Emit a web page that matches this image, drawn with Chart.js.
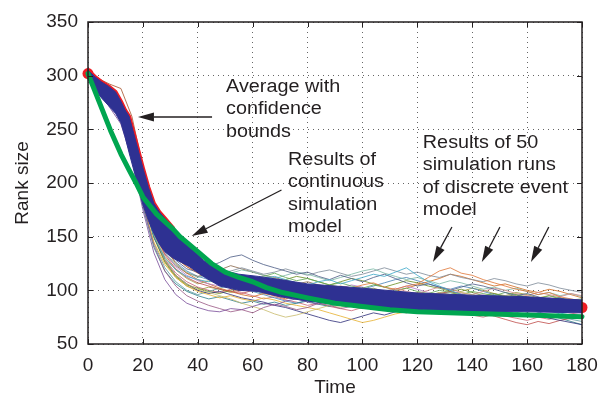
<!DOCTYPE html>
<html>
<head>
<meta charset="utf-8">
<script src="https://cdn.jsdelivr.net/npm/chart.js@4.4.1/dist/chart.umd.min.js"></script>
<style>
  html, body { margin: 0; padding: 0; background: #fff; }
  #wrap { width: 608px; height: 399px; }
</style>
</head>
<body>
<div id="wrap"><canvas id="chart" width="608" height="399"></canvas></div>
<script>
// sampling times of the 50 discrete event runs (only a readable subset is kept)
const runTimes = [0, 4, 8, 12, 16, 20, 24, 28, 32, 36, 40, 44, 48, 52, 56, 60, 64, 68, 72, 76, 80, 84, 88, 92, 96, 100, 104, 108, 112, 116, 120, 124, 128, 132, 136, 140, 144, 148, 152, 156, 160, 164, 168, 172, 176, 180];

const discreteRuns = [
    [302, 293, 283, 270, 238, 192, 160, 141, 130, 122, 117, 113, 110, 108, 110, 107, 104, 103, 101, 104, 102, 99, 101, 104, 102, 105, 107, 103, 101, 104, 106, 112, 118, 121, 116, 114, 110, 107, 104, 101, 99, 96, 98, 94, 92, 90],
    [302, 288, 272, 262, 230, 185, 150, 130, 119, 113, 110, 108, 111, 114, 112, 109, 111, 113, 110, 107, 105, 108, 110, 106, 109, 112, 115, 113, 117, 121, 114, 108, 104, 100, 96, 92, 88, 84, 80, 83, 86, 84, 81, 78, 80, 82],
    [302, 286, 270, 255, 222, 175, 135, 110, 96, 88, 84, 81, 80, 83, 82, 85, 88, 86, 90, 92, 89, 87, 91, 94, 92, 89, 86, 88, 90, 87, 85, 88, 91, 89, 86, 84, 87, 90, 88, 85, 82, 85, 83, 80, 82, 79],
    [302, 290, 278, 262, 225, 180, 142, 118, 104, 95, 90, 86, 83, 80, 82, 79, 84, 87, 85, 82, 84, 88, 86, 83, 85, 88, 91, 89, 86, 84, 87, 90, 88, 85, 83, 86, 89, 87, 84, 86, 88, 85, 82, 84, 87, 85],
    [302, 289, 276, 264, 232, 190, 152, 128, 114, 106, 101, 98, 95, 92, 88, 85, 82, 78, 75, 77, 80, 83, 86, 84, 88, 92, 90, 87, 89, 93, 96, 94, 91, 95, 98, 96, 93, 90, 92, 95, 91, 88, 90, 87, 89, 86],
    [302, 291, 282, 271, 242, 198, 162, 142, 128, 120, 117, 122, 126, 131, 133, 128, 124, 121, 118, 115, 117, 113, 110, 114, 111, 108, 112, 115, 111, 107, 104, 106, 103, 100, 103, 106, 104, 101, 98, 95, 97, 94, 91, 93, 89, 87],
    [302, 294, 286, 276, 245, 200, 165, 145, 132, 124, 118, 113, 109, 106, 103, 101, 98, 96, 99, 97, 94, 97, 100, 98, 95, 93, 96, 99, 102, 99, 97, 100, 103, 101, 98, 96, 99, 102, 100, 97, 95, 98, 96, 94, 97, 95],
    [302, 292, 280, 268, 240, 205, 170, 150, 138, 128, 122, 117, 113, 115, 112, 110, 113, 116, 112, 109, 111, 108, 105, 107, 104, 102, 105, 103, 100, 102, 99, 97, 100, 98, 96, 99, 97, 95, 98, 96, 94, 92, 95, 93, 91, 92],
    [302, 297, 292, 288, 262, 215, 172, 146, 131, 122, 116, 111, 107, 104, 106, 103, 100, 102, 99, 96, 98, 95, 93, 96, 94, 91, 93, 96, 98, 95, 92, 94, 97, 99, 96, 93, 91, 94, 92, 89, 91, 88, 86, 89, 87, 85],
    [302, 287, 274, 261, 228, 182, 145, 124, 112, 104, 99, 96, 93, 95, 92, 90, 93, 91, 88, 86, 84, 82, 79, 76, 73, 70, 72, 75, 78, 80, 83, 81, 84, 87, 85, 82, 80, 83, 86, 84, 82, 85, 83, 80, 82, 84],
    [302, 288, 275, 263, 230, 186, 150, 128, 114, 106, 100, 97, 99, 96, 93, 91, 89, 86, 84, 81, 78, 75, 72, 70, 73, 76, 79, 77, 80, 83, 81, 84, 82, 79, 82, 85, 83, 81, 78, 76, 79, 77, 74, 72, 70, 68],
    [302, 290, 279, 268, 236, 195, 158, 136, 124, 117, 112, 115, 118, 116, 119, 117, 114, 111, 114, 117, 115, 112, 109, 112, 115, 118, 120, 116, 113, 110, 112, 109, 106, 109, 107, 104, 101, 103, 100, 102, 99, 96, 98, 95, 97, 94],
    [302, 289, 277, 266, 234, 191, 155, 133, 120, 112, 107, 104, 101, 99, 97, 100, 98, 95, 97, 94, 92, 95, 93, 90, 92, 94, 91, 89, 92, 90, 88, 86, 89, 87, 84, 82, 79, 76, 73, 70, 68, 71, 69, 72, 74, 76],
    [302, 292, 284, 274, 246, 204, 168, 148, 136, 127, 121, 119, 116, 118, 121, 118, 115, 117, 120, 117, 114, 117, 119, 116, 113, 115, 118, 121, 118, 115, 117, 114, 112, 115, 112, 110, 108, 111, 109, 106, 104, 107, 105, 102, 100, 98],
    [302, 288, 274, 259, 224, 178, 140, 118, 106, 99, 95, 92, 94, 91, 88, 90, 87, 89, 86, 88, 90, 87, 85, 88, 86, 83, 85, 87, 84, 82, 85, 83, 80, 82, 84, 81, 79, 82, 80, 78, 76, 79, 77, 74, 71, 68],
    [302, 291, 279, 266, 233, 188, 152, 131, 119, 111, 106, 109, 106, 103, 106, 109, 107, 104, 101, 104, 101, 98, 101, 99, 97, 100, 102, 99, 97, 95, 98, 96, 93, 96, 94, 91, 93, 95, 92, 90, 92, 89, 91, 88, 90, 88],
    [302, 290, 281, 269, 237, 194, 157, 135, 122, 114, 109, 106, 104, 107, 105, 102, 100, 103, 106, 103, 100, 97, 99, 102, 105, 103, 100, 98, 101, 104, 101, 98, 96, 99, 97, 94, 96, 93, 91, 94, 92, 90, 93, 91, 88, 86],
    [302, 293, 285, 273, 243, 199, 163, 140, 125, 116, 110, 106, 102, 99, 96, 94, 97, 95, 92, 95, 97, 94, 91, 89, 92, 95, 93, 96, 99, 102, 105, 108, 111, 115, 113, 110, 107, 104, 106, 103, 100, 98, 101, 99, 96, 93],
    [302, 287, 273, 260, 226, 181, 144, 121, 108, 100, 96, 99, 102, 105, 103, 100, 97, 99, 96, 93, 95, 98, 96, 93, 90, 88, 86, 89, 87, 84, 87, 85, 88, 86, 83, 85, 82, 80, 77, 79, 82, 80, 77, 75, 73, 71],
    [302, 291, 280, 267, 235, 191, 155, 134, 123, 116, 113, 116, 119, 123, 120, 117, 114, 112, 109, 106, 108, 105, 103, 100, 98, 100, 97, 95, 98, 96, 93, 95, 92, 90, 93, 91, 88, 90, 92, 89, 87, 89, 86, 88, 85, 83],
    [302, 289, 278, 265, 231, 188, 150, 127, 113, 105, 102, 99, 97, 100, 103, 101, 104, 107, 110, 113, 111, 108, 105, 108, 111, 109, 106, 103, 106, 109, 107, 104, 102, 99, 101, 98, 95, 97, 94, 96, 93, 90, 92, 89, 91, 89],
    [302, 292, 283, 272, 241, 196, 160, 138, 126, 118, 113, 110, 108, 105, 102, 99, 96, 93, 90, 88, 91, 94, 97, 95, 98, 101, 104, 107, 110, 112, 109, 106, 103, 101, 104, 102, 99, 96, 94, 91, 89, 92, 90, 87, 85, 83],
    [302, 290, 277, 265, 233, 189, 151, 129, 116, 108, 103, 100, 98, 101, 98, 95, 92, 94, 91, 89, 86, 88, 85, 83, 81, 84, 86, 83, 81, 79, 82, 80, 78, 81, 79, 77, 75, 78, 76, 74, 72, 75, 73, 76, 78, 80],
    [302, 288, 276, 264, 231, 187, 149, 126, 112, 104, 100, 103, 101, 98, 101, 104, 102, 106, 109, 107, 104, 102, 105, 103, 100, 98, 101, 99, 96, 94, 97, 95, 98, 96, 99, 102, 100, 97, 95, 98, 96, 93, 95, 92, 90, 91]
];

// average of the runs with its confidence bounds
const avgTimes = [0, 2.5, 5, 7.5, 10, 12, 13.5, 15, 17, 20, 22, 24, 26, 28, 31, 34, 37, 42, 48, 55, 62, 70, 80, 90, 100, 120, 140, 160, 180];
const avgUpper = [305, 299, 294, 290, 285, 276, 268, 262, 243, 214, 196, 181, 173, 167, 158, 149, 141, 128, 119, 115, 113, 110, 106, 104, 102, 97.5, 95.5, 94, 91];
const avgLower = [298, 287, 279, 272, 265, 256, 243, 228, 209, 180, 165, 153, 143, 136, 130, 126, 122, 113, 104, 100, 99, 94, 90, 87, 85, 82, 80.5, 80, 79];
const avgEndTimes = [0, 180];
const avgEndValues = [302, 84];

// continuous simulation model
const contTimes = [0, 4, 8.2, 12, 15, 17.5, 20, 25, 31, 33.5, 40, 45, 50, 55, 60, 65, 70, 80, 90, 100, 110, 120, 140, 160, 180];
const contValues = [302, 276, 249, 227, 212, 200, 187, 171, 157, 150, 136, 125, 117, 112, 108, 102.5, 98.5, 93, 88, 85, 82, 80, 78.5, 77, 75.5];

const xTicks = [0, 20, 40, 60, 80, 100, 120, 140, 160, 180];
const yTicks = [50, 100, 150, 200, 250, 300, 350];

const runColors = ['#e0783a', '#3fa9c9', '#7a4f9a', '#9a5a86', '#c9bc6e', '#4d5d86', '#d88a8a', '#62a856',
    '#a8562e', '#e6b030', '#30307a', '#7ab8a6', '#c0504d', '#7f8c99', '#2f7f8a', '#9fa04a',
    '#b07cc6', '#d2691e', '#5f9ea0', '#8b6a4f', '#6b8e23', '#4682b4', '#cc6677', '#999933'];

const notes = [
    { x: 50.3, y: 289.4, lines: ['Average with', 'confidence', 'bounds'] },
    { x: 72.9, y: 221.4, lines: ['Results of', 'continuous', 'simulation', 'model'] },
    { x: 122, y: 237.3, lines: ['Results of 50', 'simulation runs', 'of discrete event', 'model'] },
];
const arrows = [
    { from: [45.2, 261.5], to: [18.2, 261.5] },
    { from: [70.5, 193.5], to: [37.8, 150.6] },
    { from: [132.6, 159], to: [125.7, 126.4] },
    { from: [150.1, 159], to: [143.5, 126.4] },
    { from: [167.9, 159], to: [161.4, 126.4] },
];

const ink = '#231f20';
const font = '"Liberation Sans", Arial, Helvetica, sans-serif';
const pts = (xs, ys) => xs.map((x, i) => ({ x: x, y: ys[i] }));

const datasets = [];
datasets.push({
    data: pts(contTimes, contValues),
    borderColor: '#00a650',
    borderWidth: 5,
    order: 0,
    clip: false,
});
datasets.push({
    data: pts(avgTimes, avgLower),
    borderColor: '#2e3192',
    borderWidth: 1,
    order: 1,
    clip: false,
});
datasets.push({
    data: pts(avgTimes, avgUpper),
    borderColor: '#2e3192',
    backgroundColor: '#2e3192',
    borderWidth: 1,
    fill: '-1',
    order: 1,
    clip: false,
});
datasets.push({
    data: pts(avgTimes, avgUpper).filter((p) => p.x <= 31),
    borderColor: '#ed1c24',
    borderWidth: 4,
    order: 2,
    clip: false,
});
datasets.push({
    data: pts(avgEndTimes, avgEndValues),
    showLine: false,
    pointRadius: 5.5,
    pointBackgroundColor: '#ed1c24',
    pointBorderWidth: 0,
    order: 2,
    clip: false,
});
discreteRuns.forEach((run, i) => {
    datasets.push({
        data: pts(runTimes, run),
        borderColor: runColors[i % runColors.length] + 'd0',
        borderWidth: 1,
        order: 5,
    });
});

const framePlugin = {
    id: 'frame',
    afterDatasetsDraw(chart) {
        const { ctx, chartArea: a, scales } = chart;
        ctx.save();
        ctx.strokeStyle = ink;
        ctx.lineWidth = 1.5;
        ctx.strokeRect(a.left, a.top, a.right - a.left, a.bottom - a.top);
        ctx.lineWidth = 1;
        ctx.beginPath();
        xTicks.forEach((t) => {
            const px = Math.round(scales.x.getPixelForValue(t)) + 0.5;
            ctx.moveTo(px, a.bottom); ctx.lineTo(px, a.bottom - 5);
            ctx.moveTo(px, a.top); ctx.lineTo(px, a.top + 5);
        });
        yTicks.forEach((t) => {
            const py = Math.round(scales.y.getPixelForValue(t)) + 0.5;
            ctx.moveTo(a.left, py); ctx.lineTo(a.left + 5, py);
            ctx.moveTo(a.right, py); ctx.lineTo(a.right - 5, py);
        });
        ctx.stroke();
        ctx.restore();
    },
};

const notesPlugin = {
    id: 'notes',
    afterDraw(chart) {
        const { ctx, scales } = chart;
        ctx.save();
        ctx.fillStyle = ink;
        ctx.strokeStyle = ink;
        ctx.font = '18px ' + font;
        ctx.textBaseline = 'middle';
        ctx.textAlign = 'left';
        notes.forEach((n) => {
            const px = scales.x.getPixelForValue(n.x);
            const py = scales.y.getPixelForValue(n.y);
            n.lines.forEach((line, i) => {
                ctx.save();
                ctx.translate(px, py + i * 22.3);
                ctx.scale(1.1, 1);
                ctx.fillText(line, 0, 0);
                ctx.restore();
            });
        });
        ctx.lineWidth = 1.3;
        arrows.forEach((ar) => {
            const x1 = scales.x.getPixelForValue(ar.from[0]);
            const y1 = scales.y.getPixelForValue(ar.from[1]);
            const x2 = scales.x.getPixelForValue(ar.to[0]);
            const y2 = scales.y.getPixelForValue(ar.to[1]);
            const ang = Math.atan2(y2 - y1, x2 - x1);
            const len = 16, half = 4.5;
            const bx = x2 - len * Math.cos(ang), by = y2 - len * Math.sin(ang);
            ctx.beginPath();
            ctx.moveTo(x1, y1);
            ctx.lineTo(bx, by);
            ctx.stroke();
            ctx.beginPath();
            ctx.moveTo(x2, y2);
            ctx.lineTo(bx + half * Math.sin(ang), by - half * Math.cos(ang));
            ctx.lineTo(bx - half * Math.sin(ang), by + half * Math.cos(ang));
            ctx.closePath();
            ctx.fill();
        });
        ctx.restore();
    },
};

new Chart(document.getElementById('chart'), {
    type: 'line',
    data: { datasets: datasets },
    options: {
        responsive: false,
        animation: false,
        devicePixelRatio: 1,
        layout: { padding: { left: 0, right: 26, top: 22, bottom: 0 } },
        elements: {
            line: { tension: 0, fill: false, borderCapStyle: 'round', borderJoinStyle: 'round' },
            point: { radius: 0 },
        },
        plugins: { legend: { display: false }, tooltip: { enabled: false } },
        scales: {
            x: {
                type: 'linear',
                min: 0,
                max: 180,
                afterFit: (scale) => { scale.height = 55; },
                afterBuildTicks: (scale) => { scale.ticks = xTicks.map((v) => ({ value: v })); },
                ticks: { padding: 10, color: ink, font: { family: font, size: 19 } },
                grid: { color: '#666', drawTicks: false },
                border: { display: false, dash: [1, 4] },
                title: { display: true, text: 'Time', color: ink, font: { family: font, size: 19 }, padding: { top: 0, bottom: 0 } },
            },
            y: {
                type: 'linear',
                min: 50,
                max: 350,
                afterFit: (scale) => { scale.width = 88; },
                afterBuildTicks: (scale) => { scale.ticks = yTicks.map((v) => ({ value: v })); },
                ticks: { padding: 10, color: ink, font: { family: font, size: 19 } },
                grid: { color: '#666', drawTicks: false },
                border: { display: false, dash: [1, 4] },
                title: { display: true, text: 'Rank size', color: ink, font: { family: font, size: 19 }, padding: { top: 11, bottom: 0 } },
            },
        },
    },
    plugins: [framePlugin, notesPlugin],
});
</script>
</body>
</html>
